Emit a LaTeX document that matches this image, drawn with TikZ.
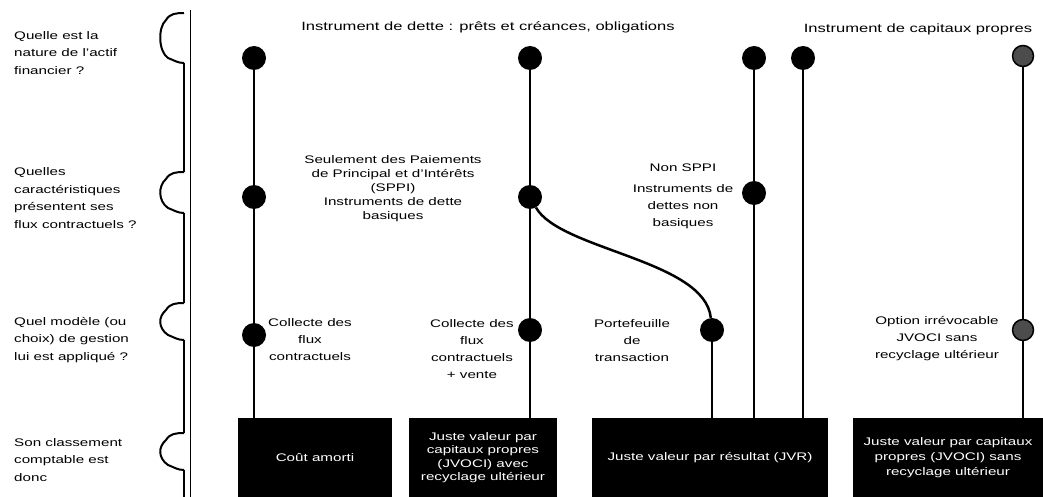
\documentclass[tikz,border=0pt]{standalone}
\usepackage{fontspec}
\setmainfont{Liberation Sans}[FakeStretch=1.38]
\usetikzlibrary{positioning}

\tikzset{
  puce/.style={circle,fill=black,inner sep=0pt,minimum size=24pt},
  pucegrise/.style={circle,draw=black,line width=1.5pt,fill=black!70,inner sep=0pt,minimum size=21pt},
  tige/.style={line width=2.5pt},
  barre/.style={line width=2pt},
  question/.style={anchor=west,align=left,inner sep=0pt,font=\fontsize{11}{17.5}\selectfont},
  etiq/.style={align=center,inner sep=0pt,font=\fontsize{11}{17}\selectfont},
  titre/.style={inner sep=0pt,font=\fontsize{12}{14}\selectfont},
  classe/.style={fill=black,text=white,align=center,inner sep=0pt,minimum height=79pt,font=\fontsize{11}{13.5}\selectfont}
}

\begin{document}
\begin{tikzpicture}[x=1pt,y=-1pt]
  \useasboundingbox (0,0) rectangle (1043,497);

  % questions on the left
  \node[question] (q1) at (14,53) {Quelle est la\\nature de l'actif\\financier ?};
  \node[question] (q2) at (14,198) {Quelles\\caractéristiques\\présentent ses\\flux contractuels ?};
  \node[question] (q3) at (14,340) {Quel modèle (ou\\choix) de gestion\\lui est appliqué ?};
  \node[question] (q4) at (14,460) {Son classement\\comptable est\\donc};

  % binder with the notches
  \draw[line width=0.8pt] (190,10) -- (190,497);
  \foreach \a/\b in {63/172,213/303,340/433,470/497}
    \draw[barre] (184,\a) -- (184,\b);
  \foreach \a/\b in {13/63,172/213,303/340,433/470}
    \draw[barre] (184,\a) to[out=180,in=60] (166,\a+7) .. controls (158,\a+14) and (158,\b-12) .. (168,\b-5) to[out=-20,in=180] (184,\b);

  % titles
  \node[titre] (dette) at (488,27) {Instrument de dette : prêts et créances, obligations};
  \node[titre] (capitaux) at (918,29) {Instrument de capitaux propres};

  % dots
  \node[puce] (n1) at (254,58) {};
  \node[puce] (c1) at (254,197) {};
  \node[puce] (m1) at (254,335) {};
  \node[puce] (n2) at (530,58) {};
  \node[puce] (c2) at (530,197) {};
  \node[puce] (m2) at (530,330) {};
  \node[puce] (m3) at (712,330) {};
  \node[puce] (n4) at (754,58) {};
  \node[puce] (c4) at (754,193) {};
  \node[puce] (n5) at (803,58) {};
  \node[pucegrise] (n6) at (1023,56) {};
  \node[pucegrise] (m6) at (1023,330) {};

  % labels
  \node[etiq,font=\fontsize{11}{14}\selectfont] (sppi) at (393,189) {Seulement des Paiements\\de Principal et d'Intérêts\\(SPPI)\\Instruments de dette\\basiques};
  \node[etiq] (nonsppi) at (683,196) {Non SPPI\\[4pt]Instruments de\\dettes non\\basiques};
  \node[etiq] (collecte) at (310,340) {Collecte des\\flux\\contractuels};
  \node[etiq] (collectevente) at (472,349) {Collecte des\\flux\\contractuels\\+ vente};
  \node[etiq] (transaction) at (632,341) {Portefeuille\\de\\transaction};
  \node[etiq] (option) at (937,339) {Option irrévocable\\JVOCI sans\\recyclage ultérieur};

  % classes
  \node[classe,minimum width=154pt] (box1) at (315,457.5) {Coût amorti};
  \node[classe,minimum width=148pt] (box2) at (483,457.5) {Juste valeur par\\capitaux propres\\(JVOCI) avec\\recyclage ultérieur};
  \node[classe,minimum width=236pt] (box3) at (710,457.5) {Juste valeur par résultat (JVR)};
  \node[classe,minimum width=190pt,font=\fontsize{11}{15}\selectfont] (box4) at (948,457.5) {Juste valeur par capitaux\\propres (JVOCI) sans\\recyclage ultérieur};

  % stems
  \draw[tige] (n1) -- (c1) -- (m1) -- (m1 |- box1.north);
  \draw[tige] (n2) -- (c2) -- (m2) -- (m2 |- box2.north);
  \draw[tige] (c2) .. controls (560,250) and (705,260) .. (m3);
  \draw[tige] (m3) -- (m3 |- box3.north);
  \draw[tige] (n4) -- (c4) -- (c4 |- box3.north);
  \draw[tige] (n5) -- (n5 |- box3.north);
  \draw[tige] (n6) -- (m6) -- (m6 |- box4.north);
\end{tikzpicture}
\end{document}
